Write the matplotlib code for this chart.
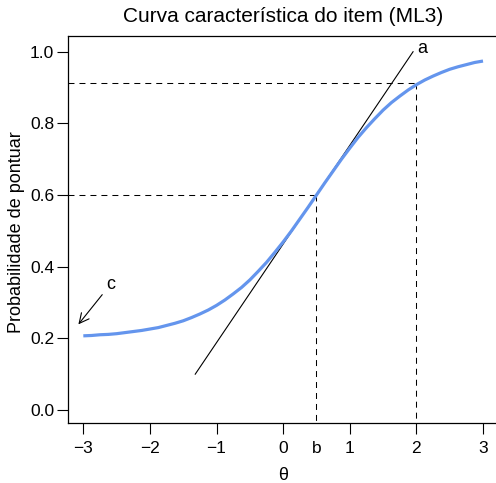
import matplotlib
matplotlib.use("Agg")
import matplotlib.pyplot as plt
import matplotlib.transforms as mtransforms

plt.rcParams['font.family'] = ['Liberation Sans', 'DejaVu Sans']
plt.rcParams['lines.scale_dashes'] = False

# Data
theta = [-3.0, -2.875, -2.75, -2.625, -2.5, -2.375, -2.25, -2.125, -2.0, -1.875,
         -1.75, -1.625, -1.5, -1.375, -1.25, -1.125, -1.0, -0.875, -0.75, -0.625,
         -0.5, -0.375, -0.25, -0.125, 0.0, 0.125, 0.25, 0.375, 0.5, 0.625,
         0.75, 0.875, 1.0, 1.125, 1.25, 1.375, 1.5, 1.625, 1.75, 1.875,
         2.0, 2.125, 2.25, 2.375, 2.5, 2.625, 2.75, 2.875, 3.0]
prob = [0.207, 0.208, 0.210, 0.211, 0.213, 0.216, 0.219, 0.222, 0.226, 0.230,
        0.236, 0.242, 0.249, 0.258, 0.268, 0.279, 0.292, 0.307, 0.324, 0.342,
        0.363, 0.387, 0.412, 0.440, 0.469, 0.500, 0.533, 0.566, 0.600, 0.634,
        0.667, 0.700, 0.731, 0.761, 0.788, 0.813, 0.837, 0.858, 0.876, 0.893,
        0.908, 0.921, 0.932, 0.942, 0.951, 0.958, 0.964, 0.970, 0.974]
tangent_x = [-1.32, 1.95]
tangent_y = [0.10, 1.00]
b_val, p_b = 0.5, 0.60
theta2, p_2 = 2.0, 0.912
xticks = [-3, -2, -1, 0, 1, 2, 3]
yticks = [0.0, 0.2, 0.4, 0.6, 0.8, 1.0]
ytick_labels = ["0.0", "0.2", "0.4", "0.6", "0.8", "1.0"]

W, H = 496, 483
fig = plt.figure(figsize=(W/100, H/100), dpi=100)
ax = fig.add_axes([68/W, 60/H, (498-68)/W, (447-60)/H])
xmin, xmax = -3.23, 3.225
ymin, ymax = -0.0363, 1.0439
ax.set_xlim(xmin, xmax)
ax.set_ylim(ymin, ymax)

dash = (4.3, 3.6)
ax.plot([xmin, b_val], [p_b, p_b], color='black', lw=0.75, dashes=dash)
ax.plot([b_val, b_val], [p_b, ymin], color='black', lw=0.75, dashes=dash)
ax.plot([xmin, theta2], [p_2, p_2], color='black', lw=0.75, dashes=dash)
ax.plot([theta2, theta2], [p_2, ymin], color='black', lw=0.75, dashes=dash)

ax.plot(tangent_x, tangent_y, color='black', lw=0.8)
ax.plot(theta, prob, color='#6495ED', lw=2.3, solid_capstyle='butt')

ax.text(2.09, 1.01, 'a', fontsize=13, ha='center', va='center')
ax.text(-2.59, 0.349, 'c', fontsize=13, ha='center', va='center')
ax.annotate('', xy=(-3.1, 0.233), xytext=(-2.69, 0.328),
            arrowprops=dict(arrowstyle='->,head_length=0.7,head_width=0.35', lw=0.8, color='black'))

ax.set_xticks(xticks)
ax.set_yticks(yticks)
ax.set_yticklabels(ytick_labels)
ax.tick_params(axis='both', direction='out', length=8, width=0.8, labelsize=12.5, colors='black')
ax.tick_params(axis='x', pad=5)
ax.tick_params(axis='y', pad=2)

trans = mtransforms.blended_transform_factory(ax.transData, ax.transAxes)
ax.text(b_val, -(434 + 7 - 423) / 387, 'b', transform=trans, fontsize=12.5, ha='center', va='top')

for s in ax.spines.values():
    s.set_linewidth(0.9)

fig.text(283/W, 1 - 475/H, 'θ', fontsize=13, ha='center', va='center')
fig.text(17/W, 1 - 232/H, 'Probabilidade de pontuar', fontsize=13, ha='center', va='center',
         rotation=90)
fig.text(283/W, 1 - 17/H, 'Curva característica do item (ML3)', fontsize=15, ha='center',
         va='center')

fig.savefig('out.png', dpi=100)
